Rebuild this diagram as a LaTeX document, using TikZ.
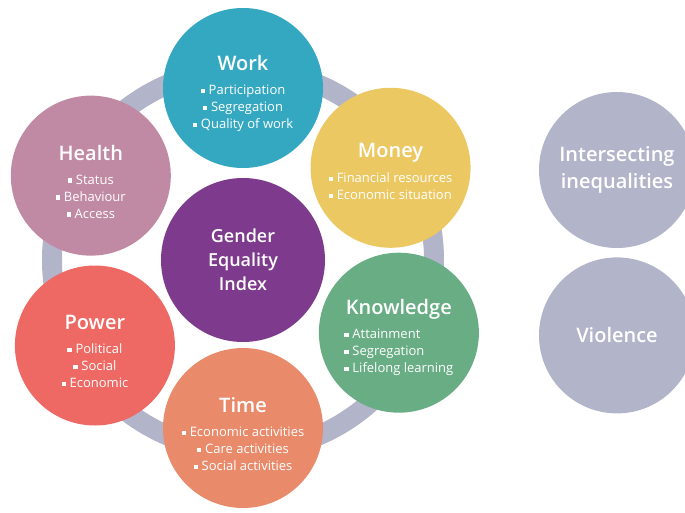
\documentclass[tikz,border=0pt]{standalone}
\usepackage{fontspec}
\setmainfont{Open Sans}[BoldFont={Open Sans Semibold}]
\usetikzlibrary{positioning}
\definecolor{workcol}{HTML}{35A8C1}
\definecolor{moneycol}{HTML}{EBC862}
\definecolor{knowcol}{HTML}{69AD85}
\definecolor{timecol}{HTML}{E98A6B}
\definecolor{powercol}{HTML}{EE6963}
\definecolor{healthcol}{HTML}{C18AA4}
\definecolor{geicol}{HTML}{7E3A8C}
\definecolor{ringcol}{HTML}{B2B4CA}
%Small square bullet
\newcommand{\itm}{\raisebox{0.22ex}{\rule{0.32em}{0.32em}}\hspace{0.3em}}
%Title of a domain
\newcommand{\ttl}[1]{\rule{0pt}{27pt}{\fontsize{20}{24}\selectfont\bfseries #1}\\[7pt]}
\tikzset{
    %Define style for domain circles
    domnode/.style={
             circle, minimum size=160pt, inner sep=0pt,
             text=white, align=center,
             font=\fontsize{13}{17}\selectfont},
    %Define style for the grey circles
    greynode/.style={
             circle, minimum size=156pt, inner sep=0pt,
             fill=ringcol, text=white, align=center,
             font=\fontsize{20}{27}\selectfont\bfseries},
    % Define ring style
    ringline/.style={
            draw=ringcol,
            line width=20pt}
}
\begin{document}
\begin{tikzpicture}
 \useasboundingbox (-243pt,-252pt) rectangle (442pt,260pt);
 \node[domnode, minimum size=164pt, fill=geicol, font=\fontsize{18}{24}\selectfont\bfseries] (gei) at (0,0) {Gender\\Equality\\Index};
 \draw[ringline] (gei.center) circle (191pt);
 \node[domnode, fill=workcol] (work) at (90:172pt) {\ttl{Work}\itm Participation\\\itm Segregation\\\itm Quality of work};
 \node[domnode, fill=moneycol] (money) at (32:174pt) {\ttl{Money}\begin{tabular}{@{}l@{}}\itm Financial resources\\\itm Economic situation\end{tabular}};
 \node[domnode, fill=knowcol] (know) at (-25:172pt) {\ttl{Knowledge}\begin{tabular}{@{}l@{}}\itm Attainment\\\itm Segregation\\\itm Lifelong learning\end{tabular}};
 \node[domnode, fill=timecol] (time) at (-90:168pt) {\ttl{Time}\itm Economic activities\\\itm Care activities\\\itm Social activities};
 \node[domnode, fill=powercol] (power) at (210:171pt) {\ttl{Power}\itm Political\\\itm Social\\\itm Economic};
 \node[domnode, fill=healthcol] (health) at (151:174pt) {\ttl{Health}\itm Status\\\itm Behaviour\\\itm Access};
 \node[greynode] (ineq) at (374pt,90pt) {Intersecting\\inequalities};
 \node[greynode, below=9pt of ineq] (viol) {Violence};
\end{tikzpicture}
\end{document}
